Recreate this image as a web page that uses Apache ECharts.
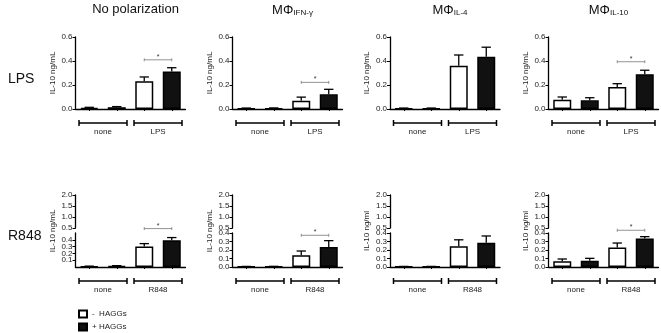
<!DOCTYPE html>
<html>
<head>
<meta charset="utf-8">
<script src="https://cdn.jsdelivr.net/npm/echarts@6/dist/echarts.min.js"></script>
<style>
html, body { margin: 0; padding: 0; background: #fff; }
#chart { width: 661px; height: 333px; }
</style>
</head>
<body>
<div id="chart"></div>
<script>
// panel headings
const panelMain = ['No polarization', 'MΦ', 'MΦ', 'MΦ'];
const panelSub = ['', 'IFN-γ', 'IL-4', 'IL-10'];
const rowLabels = ['LPS', 'R848'];
const lpsGroups = ['none', 'LPS'];
const r848Groups = ['none', 'R848'];
const yNamesTop = ['IL-10 ng/mL', 'IL-10 ng/mL', 'IL-10 ng/mL', 'IL-10 ng/mL'];
const yNamesBottom = ['IL-10 ng/mL', 'IL-10 ng/mL', 'IL-10 ng/ml', 'IL-10 ng/ml'];

// LPS row, [none, LPS] per panel
const lpsMinusMean = [[0.010, 0.232], [0.005, 0.069], [0.005, 0.360], [0.078, 0.184]];
const lpsMinusErr = [[0.004, 0.035], [0.003, 0.030], [0.003, 0.090], [0.022, 0.027]];
const lpsPlusMean = [[0.015, 0.313], [0.006, 0.122], [0.005, 0.435], [0.072, 0.290]];
const lpsPlusErr = [[0.005, 0.031], [0.003, 0.042], [0.003, 0.080], [0.022, 0.033]];
const lpsSig = [0.41, 0.222, null, 0.394];

// R848 row, [none, R848] per panel
const r848MinusMean = [[0.010, 0.302], [0.005, 0.138], [0.005, 0.245], [0.067, 0.228]];
const r848MinusErr = [[0.003, 0.042], [0.002, 0.050], [0.002, 0.075], [0.027, 0.054]];
const r848PlusMean = [[0.015, 0.393], [0.006, 0.235], [0.005, 0.285], [0.075, 0.334]];
const r848PlusErr = [[0.005, 0.040], [0.002, 0.075], [0.002, 0.080], [0.027, 0.023]];
const r848Sig = [0.565, 0.373, null, 0.432];

// axis ticks
const topTicks = [0, 0.6, 0.2];
const brokenUpperTicks = [0.5, 2.0, 0.5];
const brokenLowerMax = [0.5, 0.4, 0.4, 0.4];
const brokenLowerStep = 0.1;

const FONT = 'Liberation Sans, Arial, Helvetica, sans-serif';
const TXT = '#222';
const gridLefts = [75.5, 232.5, 390, 548.5];
const gridWidth = 110;

const chart = echarts.init(document.getElementById('chart'));

const grids = [];
const xAxes = [];
const yAxes = [];
const series = [];
const titles = [];
const graphics = [];

const fmt = v => v.toFixed(1);

function addGrid(left, top, height, yMin, yMax, step, showX, yName) {
  const g = grids.length;
  grids.push({ left: left, top: top, width: gridWidth, height: height, containLabel: false, outerBoundsMode: 'none' });
  xAxes.push({
    gridIndex: g, type: 'category', data: ['a', 'b', 'c', 'd'], show: showX,
    axisLine: { show: true, lineStyle: { color: '#000', width: 1.3 } },
    axisTick: { show: true, length: 2, alignWithLabel: true, lineStyle: { color: '#000', width: 1 } },
    axisLabel: { show: false }, splitLine: { show: false }
  });
  yAxes.push({
    gridIndex: g, type: 'value', min: yMin, max: yMax, interval: step,
    name: yName || '', nameLocation: 'middle', nameGap: 19,
    nameTextStyle: { fontSize: 8, color: TXT, fontFamily: FONT },
    axisLine: { show: true, lineStyle: { color: '#000', width: 1.3 } },
    axisTick: { show: true, length: 3, lineStyle: { color: '#000', width: 1 } },
    axisLabel: { fontSize: 8, color: TXT, fontFamily: FONT, margin: 3, formatter: fmt },
    splitLine: { show: false }
  });
  return g;
}

function renderErr(params, api) {
  const base = api.coord([api.value(0), api.value(1)]);
  const top = api.coord([api.value(0), api.value(2)]);
  const hw = api.size([1, 0])[0] * 0.17;
  const st = { stroke: '#000', lineWidth: 1.3 };
  return {
    type: 'group', children: [
      { type: 'line', shape: { x1: base[0], y1: base[1], x2: top[0], y2: top[1] }, style: st },
      { type: 'line', shape: { x1: top[0] - hw, y1: top[1], x2: top[0] + hw, y2: top[1] }, style: st }
    ]
  };
}

function groupRenderer(labels) {
  return function (params, api) {
    const a = api.coord([api.value(0), 0]);
    const b = api.coord([api.value(2), 0]);
    const band = api.size([1, 0])[0];
    const x0 = a[0] - band / 2 + 3.5;
    const x1 = b[0] + band / 2 - 3.5;
    const y = a[1] + 14;
    const st = { stroke: '#000', lineWidth: 1.5 };
    return {
      type: 'group', children: [
        { type: 'line', shape: { x1: x0, y1: y, x2: x1, y2: y }, style: st },
        { type: 'line', shape: { x1: x0, y1: y - 3, x2: x0, y2: y + 3 }, style: st },
        { type: 'line', shape: { x1: x1, y1: y - 3, x2: x1, y2: y + 3 }, style: st },
        { type: 'text', style: { text: labels[params.dataIndex], x: (x0 + x1) / 2, y: y + 9, align: 'center', verticalAlign: 'middle', fontSize: 8, fill: TXT, fontFamily: FONT } }
      ]
    };
  };
}

function renderSig(params, api) {
  const a = api.coord([api.value(0), api.value(1)]);
  const b = api.coord([api.value(2), api.value(1)]);
  const st = { stroke: '#777', lineWidth: 0.8 };
  return {
    type: 'group', children: [
      { type: 'line', shape: { x1: a[0], y1: a[1], x2: b[0], y2: b[1] }, style: st },
      { type: 'line', shape: { x1: a[0], y1: a[1] - 1.5, x2: a[0], y2: a[1] + 1.5 }, style: st },
      { type: 'line', shape: { x1: b[0], y1: b[1] - 1.5, x2: b[0], y2: b[1] + 1.5 }, style: st },
      { type: 'text', style: { text: '*', x: (a[0] + b[0]) / 2, y: a[1] - 3, align: 'center', verticalAlign: 'middle', fontSize: 7, fill: '#333', fontFamily: FONT } }
    ]
  };
}

function addPanelSeries(g, mMean, mErr, pMean, pErr, sig, labels) {
  series.push({
    type: 'bar', name: '-  HAGGs', xAxisIndex: g, yAxisIndex: g, silent: true,
    data: [mMean[0], '-', mMean[1], '-'], barWidth: 18, barGap: '-100%',
    itemStyle: { color: '#fff', borderColor: '#000', borderWidth: 1.5 }
  });
  series.push({
    type: 'bar', name: '+ HAGGs', xAxisIndex: g, yAxisIndex: g, silent: true,
    data: ['-', pMean[0], '-', pMean[1]], barWidth: 18, barGap: '-100%',
    itemStyle: { color: '#111', borderColor: '#000', borderWidth: 1.5 }
  });
  series.push({
    type: 'custom', xAxisIndex: g, yAxisIndex: g, silent: true, clip: false, z: 3,
    data: [
      [0, mMean[0], mMean[0] + mErr[0]],
      [1, pMean[0], pMean[0] + pErr[0]],
      [2, mMean[1], mMean[1] + mErr[1]],
      [3, pMean[1], pMean[1] + pErr[1]]
    ],
    renderItem: renderErr
  });
  series.push({
    type: 'custom', xAxisIndex: g, yAxisIndex: g, silent: true, clip: false,
    data: [[0, 0, 1], [2, 0, 3]],
    renderItem: groupRenderer(labels)
  });
  if (sig !== null) {
    series.push({
      type: 'custom', xAxisIndex: g, yAxisIndex: g, silent: true, clip: false,
      data: [[2, sig, 3]],
      renderItem: renderSig
    });
  }
}

for (let i = 0; i < 4; i++) {
  const left = gridLefts[i];
  // top row (LPS)
  const gt = addGrid(left, 37, 72, topTicks[0], topTicks[1], topTicks[2], true, yNamesTop[i]);
  addPanelSeries(gt, lpsMinusMean[i], lpsMinusErr[i], lpsPlusMean[i], lpsPlusErr[i], lpsSig[i], lpsGroups);
  // bottom row (R848) - broken axis
  const gu = addGrid(left, 195, 33, brokenUpperTicks[0], brokenUpperTicks[1], brokenUpperTicks[2], false, '');
  const gl = addGrid(left, 233, 34, 0, brokenLowerMax[i], brokenLowerStep, true, '');
  addPanelSeries(gl, r848MinusMean[i], r848MinusErr[i], r848PlusMean[i], r848PlusErr[i], r848Sig[i], r848Groups);

  const cx = left + gridWidth / 2;
  const rich = !!panelSub[i];
  titles.push({
    left: cx, top: rich ? -4 : -2, textAlign: 'center',
    text: rich ? '{m|' + panelMain[i] + '}{s|' + panelSub[i] + '}' : panelMain[i],
    textStyle: {
      fontSize: 13, fontWeight: 'normal', color: '#111', fontFamily: FONT,
      rich: {
        m: { fontSize: 13, color: '#111', fontFamily: FONT, lineHeight: 16, verticalAlign: 'bottom' },
        s: { fontSize: 8, color: '#111', fontFamily: FONT, lineHeight: 8, verticalAlign: 'bottom' }
      }
    }
  });
  graphics.push({
    type: 'text', x: left - 23, y: 231, rotation: Math.PI / 2, silent: true,
    style: { text: yNamesBottom[i], align: 'center', verticalAlign: 'middle', fontSize: 8, fill: TXT, fontFamily: FONT }
  });
}

titles.push({ left: 3, top: 67, text: rowLabels[0], textStyle: { fontSize: 14, fontWeight: 'normal', color: '#111', fontFamily: FONT } });
titles.push({ left: 3, top: 224, text: rowLabels[1], textStyle: { fontSize: 14, fontWeight: 'normal', color: '#111', fontFamily: FONT } });

chart.setOption({
  animation: false,
  backgroundColor: '#fff',
  title: titles,
  legend: {
    data: ['-  HAGGs', '+ HAGGs'], orient: 'vertical', left: 73, top: 304, height: 40,
    icon: 'rect', itemWidth: 8, itemHeight: 7, itemGap: 3, itemTextGap: 5, selectedMode: false,
    textStyle: { fontSize: 8, color: TXT, fontFamily: FONT, lineHeight: 10 }
  },
  grid: grids,
  xAxis: xAxes,
  yAxis: yAxes,
  series: series,
  graphic: graphics
});
</script>
</body>
</html>
